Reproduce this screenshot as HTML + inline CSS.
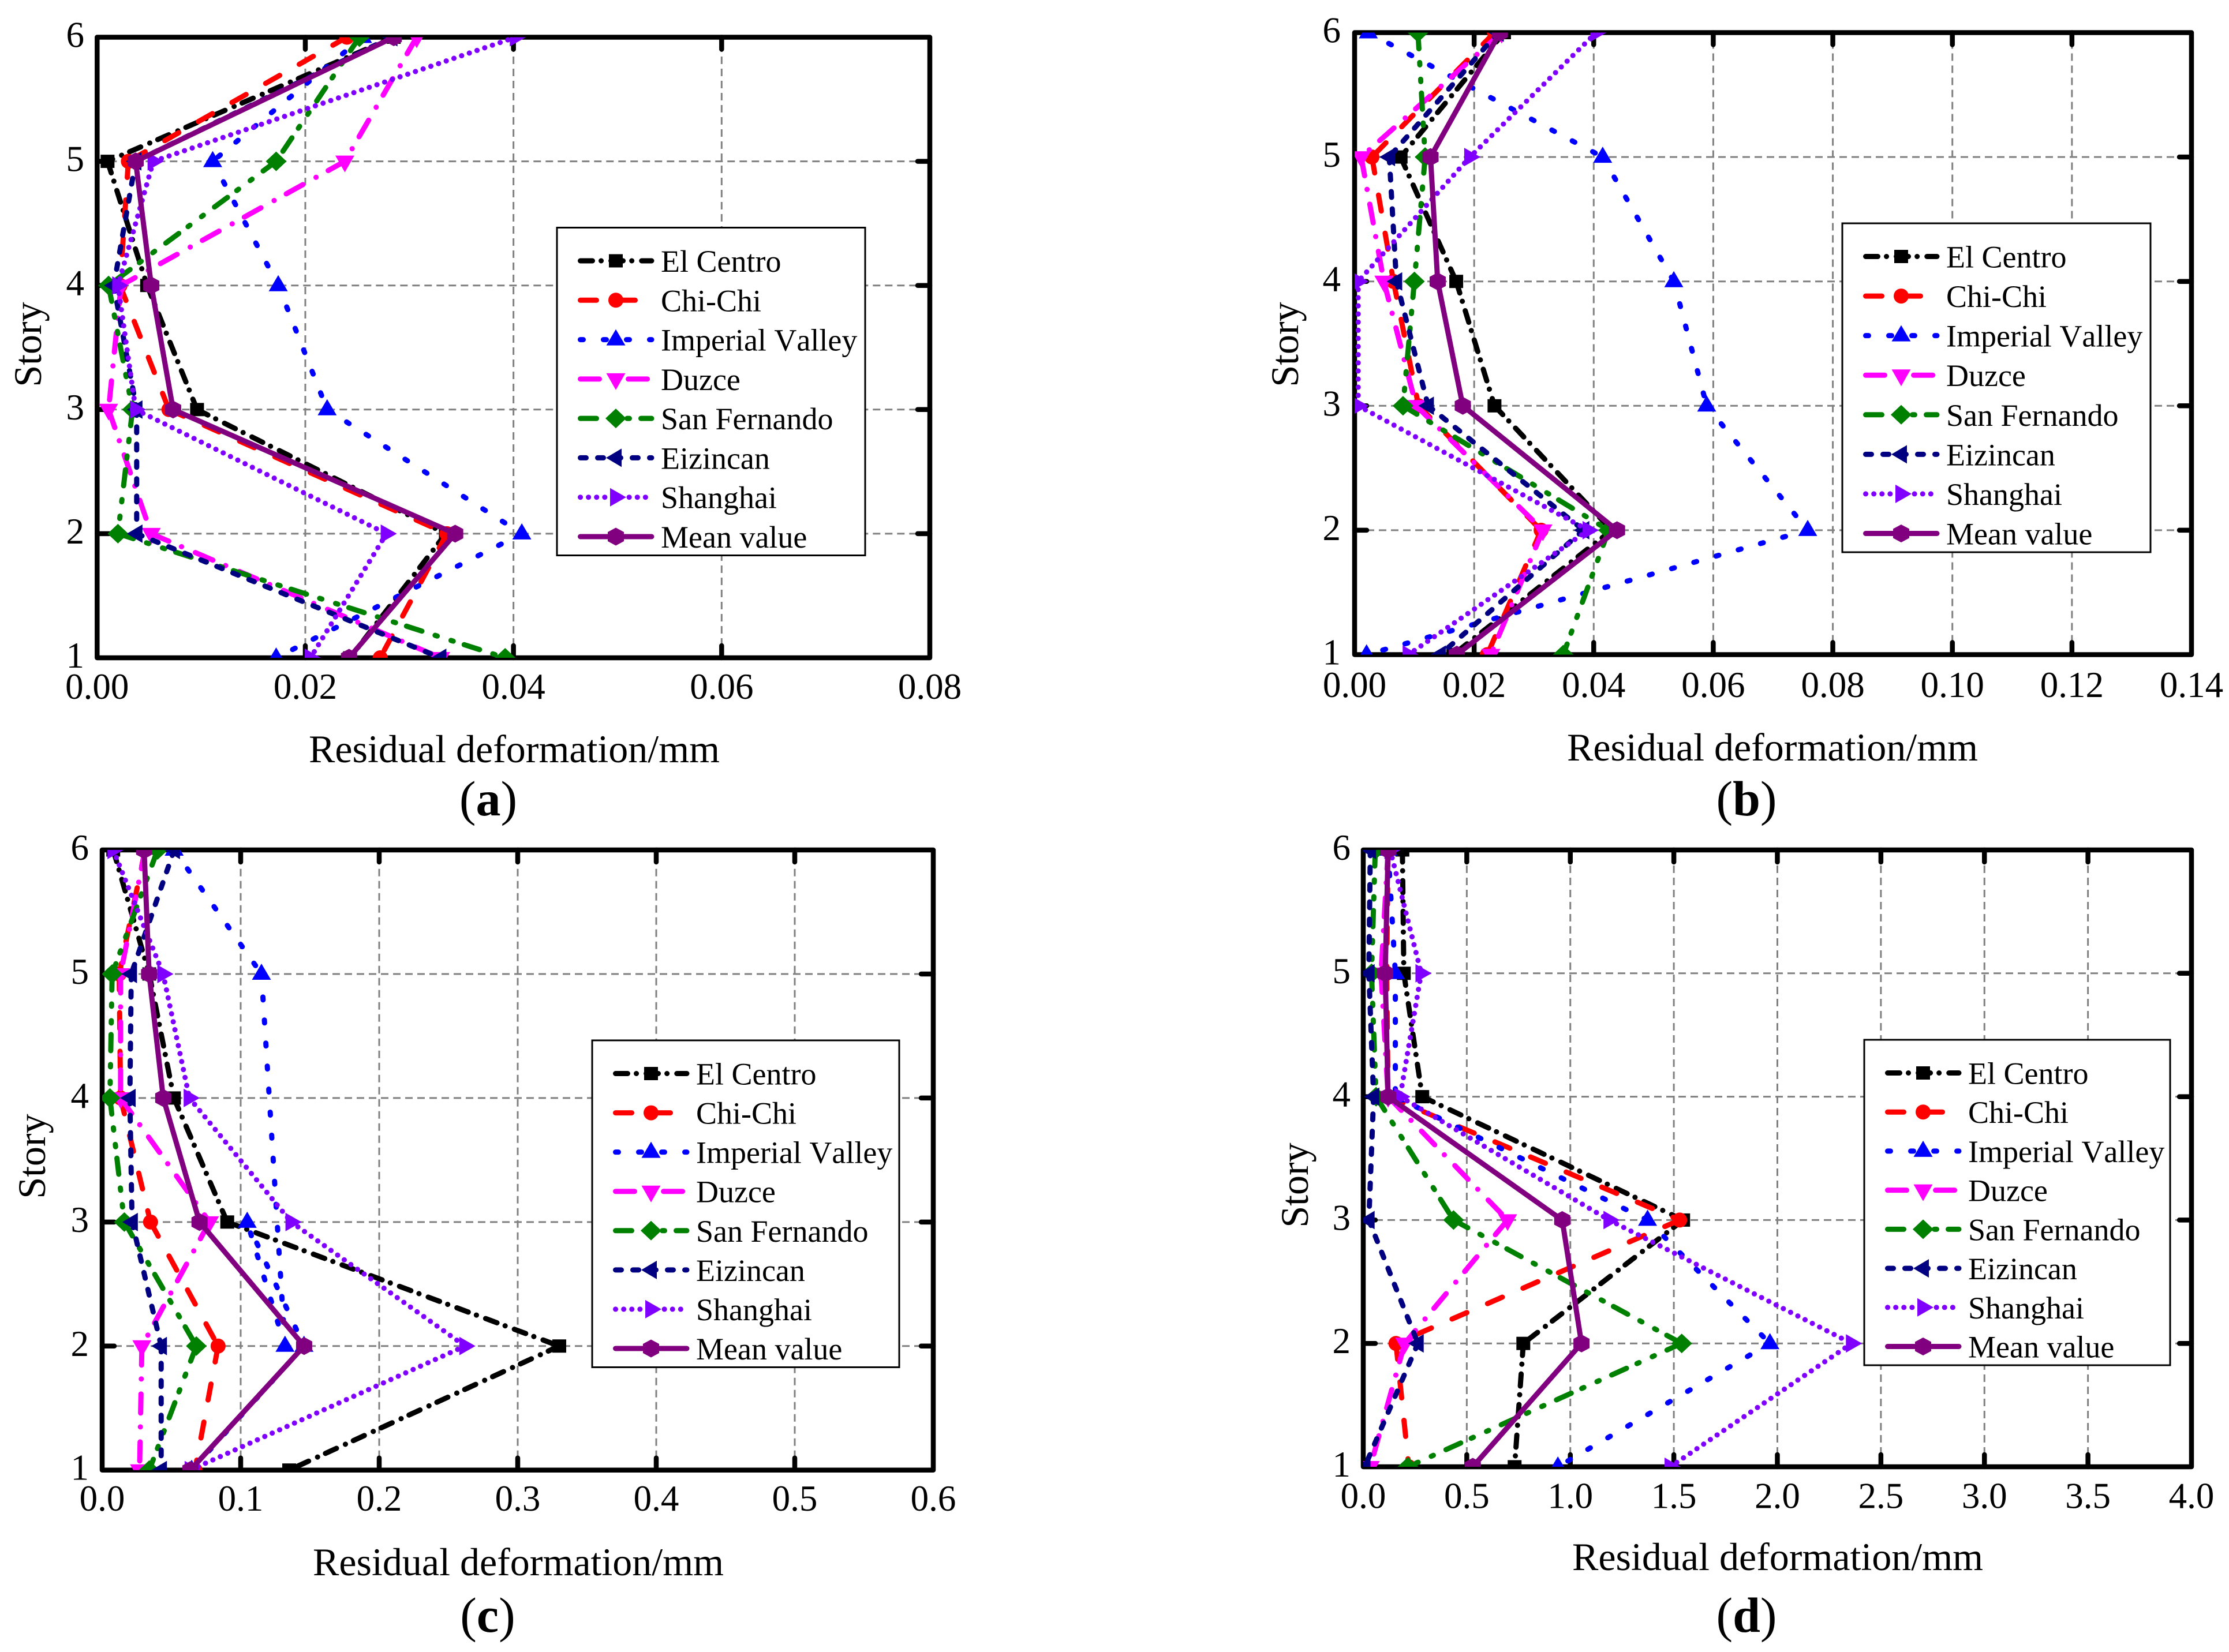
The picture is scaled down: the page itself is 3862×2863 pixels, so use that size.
<!DOCTYPE html>
<html lang="en">
<head>
<meta charset="utf-8">
<title>Residual deformation by story</title>
<style>
html,body{margin:0;padding:0;background:#fff;width:3862px;height:2863px;overflow:hidden}
svg{display:block}
text{font-family:"Liberation Serif","Times New Roman",serif;fill:#000;font-kerning:none}
.axis-title{font-size:68px}
.caption{font-size:86px}
.caption .b{font-weight:bold}
</style>
</head>
<body>
<svg id="fig" xmlns="http://www.w3.org/2000/svg" width="3862" height="2863" viewBox="0 0 3862 2863">
  <rect x="0" y="0" width="3862" height="2863" fill="#fff"/>

  <g id="panel-a"></g>
  <text class="axis-title" x="891" y="1321" text-anchor="middle">Residual deformation/mm</text>
  <text class="axis-title" transform="translate(71 597) rotate(-90)" text-anchor="middle">Story</text>
  <text class="caption" x="846" y="1413" text-anchor="middle">(<tspan class="b">a</tspan>)</text>

  <g id="panel-b"></g>
  <text class="axis-title" x="3071" y="1318" text-anchor="middle">Residual deformation/mm</text>
  <text class="axis-title" transform="translate(2249 597) rotate(-90)" text-anchor="middle">Story</text>
  <text class="caption" x="3026" y="1413" text-anchor="middle">(<tspan class="b">b</tspan>)</text>

  <g id="panel-c"></g>
  <text class="axis-title" x="898" y="2730" text-anchor="middle">Residual deformation/mm</text>
  <text class="axis-title" transform="translate(78 2004) rotate(-90)" text-anchor="middle">Story</text>
  <text class="caption" x="845" y="2828" text-anchor="middle">(<tspan class="b">c</tspan>)</text>

  <g id="panel-d"></g>
  <text class="axis-title" x="3080" y="2721" text-anchor="middle">Residual deformation/mm</text>
  <text class="axis-title" transform="translate(2266 2054) rotate(-90)" text-anchor="middle">Story</text>
  <text class="caption" x="3026" y="2828" text-anchor="middle">(<tspan class="b">d</tspan>)</text>
</svg>

<script>
// Shared categories
const stories = [1, 2, 3, 4, 5, 6];
const seriesNames = ['El Centro', 'Chi-Chi', 'Imperial Valley', 'Duzce', 'San Fernando', 'Eizincan', 'Shanghai', 'Mean value'];

// Panel (a) values, story 1 to 6
const aTicks = ['0.00', '0.02', '0.04', '0.06', '0.08'];
const aElCentro = [0.0243, 0.0335, 0.0096, 0.0048, 0.0010, 0.0285];
const aChiChi = [0.0272, 0.0336, 0.0069, 0.0022, 0.0030, 0.0240];
const aImperial = [0.0172, 0.0408, 0.0221, 0.0174, 0.0111, 0.0255];
const aDuzce = [0.0330, 0.0052, 0.0011, 0.0023, 0.0238, 0.0307];
const aSanFernando = [0.0392, 0.0020, 0.0034, 0.0011, 0.0172, 0.0252];
const aEizincan = [0.0330, 0.0038, 0.0038, 0.0016, 0.0037, 0.0283];
const aShanghai = [0.0205, 0.0278, 0.0037, 0.0020, 0.0054, 0.0402];
const aMean = [0.0242, 0.0344, 0.0073, 0.0052, 0.0037, 0.0285];

// Panel (b) values
const bTicks = ['0.00', '0.02', '0.04', '0.06', '0.08', '0.10', '0.12', '0.14'];
const bElCentro = [0.0165, 0.0430, 0.0234, 0.0170, 0.0077, 0.0250];
const bChiChi = [0.0222, 0.0312, 0.0107, 0.0065, 0.0029, 0.0234];
const bImperial = [0.0020, 0.0758, 0.0589, 0.0534, 0.0415, 0.0023];
const bDuzce = [0.0228, 0.0315, 0.0103, 0.0049, 0.0011, 0.0246];
const bSanFernando = [0.0349, 0.0425, 0.0081, 0.0100, 0.0118, 0.0106];
const bEizincan = [0.0143, 0.0383, 0.0123, 0.0070, 0.0058, 0.0240];
const bShanghai = [0.0090, 0.0391, 0.0006, 0.0006, 0.0193, 0.0404];
const bMean = [0.0171, 0.0439, 0.0181, 0.0139, 0.0127, 0.0243];

// Panel (c) values. Imperial Valley doubles back in the source: it visits
// story 2 twice and has no point at story 4.
const cTicks = ['0.0', '0.1', '0.2', '0.3', '0.4', '0.5', '0.6'];
const cElCentro = [0.135, 0.330, 0.0903, 0.0518, 0.034, 0.008];
const cChiChi = [0.067, 0.0837, 0.0349, 0.0133, 0.0123, 0.031];
const cImperial = [0.0646, 0.1457, 0.1047, 0.132, 0.115, 0.052];
const cImperialStories = [1, 2, 3, 2, 5, 6];
const cDuzce = [0.027, 0.0287, 0.0775, 0.0133, 0.0133, 0.031];
const cSanFernando = [0.034, 0.068, 0.016, 0.0056, 0.0072, 0.040];
const cEizincan = [0.0426, 0.0426, 0.0216, 0.020, 0.021, 0.052];
const cShanghai = [0.0637, 0.262, 0.1365, 0.063, 0.044, 0.008];
const cMean = [0.0637, 0.1458, 0.0703, 0.0441, 0.0339, 0.0303];

// Panel (d) values
const dTicks = ['0.0', '0.5', '1.0', '1.5', '2.0', '2.5', '3.0', '3.5', '4.0'];
const dElCentro = [0.731, 0.773, 1.545, 0.285, 0.196, 0.189];
const dChiChi = [0.22, 0.158, 1.528, 0.12, 0.113, 0.12];
const dImperial = [0.94, 1.964, 1.373, 0.155, 0.155, 0.12];
const dDuzce = [0.034, 0.20, 0.697, 0.12, 0.086, 0.12];
const dSanFernando = [0.216, 1.538, 0.436, 0.062, 0.04, 0.058];
const dEizincan = [0.007, 0.264, 0.027, 0.05, 0.027, 0.034];
const dShanghai = [1.483, 2.359, 1.188, 0.178, 0.28, 0.13];
const dMean = [0.529, 1.054, 0.961, 0.12, 0.106, 0.12];

const SVGNS = 'http://www.w3.org/2000/svg';
function add(tag, attrs, parent) {
  const n = document.createElementNS(SVGNS, tag);
  for (const k in attrs) n.setAttribute(k, attrs[k]);
  parent.appendChild(n);
  return n;
}

// Style of each series, in draw order
const styles = [
  {color: '#000000', dash: '21 15 0.1 17', marker: 'square'},
  {color: '#ff0000', dash: '28 39', marker: 'circle'},
  {color: '#0000ff', dash: '5 35', marker: 'up'},
  {color: '#ff00ff', dash: '33 24 0.1 26', marker: 'down'},
  {color: '#008000', dash: '28 24 4 25 4 20', marker: 'diamond'},
  {color: '#000080', dash: '10 20', marker: 'left'},
  {color: '#8000ff', dash: '0.1 14', marker: 'right'},
  {color: '#800080', dash: '', marker: 'hex'}
];

function drawMarker(kind, x, y, color, parent) {
  let m;
  const pts = function (list) {
    return list.map(function (p) { return (x + p[0]) + ',' + (y + p[1]); }).join(' ');
  };
  if (kind === 'square') {
    m = add('rect', {x: x - 12, y: y - 11.5, width: 24, height: 23, fill: color}, parent);
  } else if (kind === 'circle') {
    m = add('circle', {cx: x, cy: y, r: 13, fill: color}, parent);
  } else if (kind === 'up') {
    m = add('polygon', {points: pts([[0, -18], [16.5, 10], [-16.5, 10]]), fill: color}, parent);
  } else if (kind === 'down') {
    m = add('polygon', {points: pts([[0, 19], [16.5, -10], [-16.5, -10]]), fill: color}, parent);
  } else if (kind === 'diamond') {
    m = add('polygon', {points: pts([[0, -17], [18, 0], [0, 17], [-18, 0]]), fill: color}, parent);
  } else if (kind === 'left') {
    m = add('polygon', {points: pts([[-17, 0], [10, -16], [10, 16]]), fill: color}, parent);
  } else if (kind === 'right') {
    m = add('polygon', {points: pts([[18, 0], [-10, -16], [-10, 16]]), fill: color}, parent);
  } else {
    m = add('polygon', {points: pts([[0, -15.5], [14, -8], [14, 8], [0, 15.5], [-14, 8], [-14, -8]]), fill: color}, parent);
  }
  return m;
}

function drawPanel(cfg) {
  const root = document.getElementById('panel-' + cfg.id);
  const xMax = parseFloat(cfg.ticks[cfg.ticks.length - 1]);
  const xScale = function (v) { return cfg.x0 + (v / xMax) * (cfg.x1 - cfg.x0); };
  const yScale = function (s) {
    return cfg.yBottom - ((s - stories[0]) / (stories[stories.length - 1] - stories[0])) * (cfg.yBottom - cfg.yTop);
  };

  const defs = add('defs', {}, root);
  const clip = add('clipPath', {id: 'clip-' + cfg.id}, defs);
  add('rect', {x: cfg.x0, y: cfg.yTop, width: cfg.x1 - cfg.x0, height: cfg.yBottom - cfg.yTop}, clip);

  // Grid
  const grid = add('g', {stroke: '#808080', 'stroke-width': 3, 'stroke-dasharray': '13 8', fill: 'none'}, root);
  
  
  cfg.ticks.forEach(function (t, i) {
    if (i === 0 || i === cfg.ticks.length - 1) return;
    const gx = xScale(parseFloat(t));
    const line = add('line', {x1: gx, y1: cfg.yBottom, x2: gx, y2: cfg.yTop}, grid);
    
    
  });
  stories.forEach(function (s, i) {
    if (i === 0 || i === stories.length - 1) return;
    const gy = yScale(s);
    const line = add('line', {x1: cfg.x0, y1: gy, x2: cfg.x1, y2: gy}, grid);
    
    
  });

  // Frame and ticks
  const frame = add('g', {stroke: '#000', 'stroke-width': 8.5, fill: 'none', 'stroke-linejoin': 'round', 'stroke-linecap': 'round'}, root);
  
  
  const box = add('rect', {x: cfg.x0, y: cfg.yTop, width: cfg.x1 - cfg.x0, height: cfg.yBottom - cfg.yTop}, frame);
  
  
  cfg.ticks.forEach(function (t, i) {
    const tx = xScale(parseFloat(t));
    if (i > 0 && i < cfg.ticks.length - 1) {
      const bt = add('line', {x1: tx, y1: cfg.yBottom, x2: tx, y2: cfg.yBottom - 21}, frame);
      
      
      const tt = add('line', {x1: tx, y1: cfg.yTop, x2: tx, y2: cfg.yTop + 21}, frame);
      
      
    }
    const lab = add('text', {x: tx, y: cfg.xLabelY, 'text-anchor': 'middle', 'font-size': 63}, root);
    
    
    lab.textContent = t;
  });
  stories.forEach(function (s, i) {
    const ty = yScale(s);
    if (i > 0 && i < stories.length - 1) {
      const lt = add('line', {x1: cfg.x0, y1: ty, x2: cfg.x0 + 21, y2: ty}, frame);
      
      
      const rt = add('line', {x1: cfg.x1, y1: ty, x2: cfg.x1 - 21, y2: ty}, frame);
      
      
    }
    const lab = add('text', {x: cfg.yLabelX, y: ty + 17, 'text-anchor': 'end', 'font-size': 63}, root);
    
    
    lab.textContent = String(s);
  });

  // Series. The dash pattern restarts at each point, running from the upper story down.
  const dataLayer = add('g', {'clip-path': 'url(#clip-' + cfg.id + ')'}, root);
  
  
  cfg.series.forEach(function (vals, si) {
    const st = styles[si];
    const slug = seriesNames[si].toLowerCase().replace(/[^a-z]+/g, '-');
    const path = (cfg.paths && cfg.paths[si]) || stories;
    const g = add('g', {}, dataLayer);
    
    
    for (let i = vals.length - 1; i > 0; i--) {
      const attrs = {
        x1: xScale(vals[i]), y1: yScale(path[i]),
        x2: xScale(vals[i - 1]), y2: yScale(path[i - 1]),
        stroke: st.color, 'stroke-width': 9, 'stroke-linecap': 'round'
      };
      if (st.dash) attrs['stroke-dasharray'] = st.dash;
      const seg = add('line', attrs, g);
      
      
    }
    vals.forEach(function (v, i) {
      const mk = drawMarker(st.marker, xScale(v), yScale(path[i]), st.color, g);
      
      
    });
  });

  // Legend
  const lg = add('g', {transform: 'translate(' + cfg.legendX + ' ' + cfg.legendY + ')'}, root);
  
  
  const lbox = add('rect', {x: 0, y: 0, width: cfg.legendW, height: cfg.legendH, fill: '#fff', stroke: '#000', 'stroke-width': 3}, lg);
  
  
  seriesNames.forEach(function (name, i) {
    const st = styles[i];
    const ry = 57.5 + i * ((cfg.legendH - 90) / 7);
    const row = add('g', {}, lg);
    
    
    const attrs = {x1: 40.5, y1: ry, x2: 164, y2: ry, stroke: st.color, 'stroke-width': 9, 'stroke-linecap': 'round'};
    if (st.dash) attrs['stroke-dasharray'] = st.dash;
    const ln = add('line', attrs, row);
    
    
    const mk = drawMarker(st.marker, 102, ry, st.color, row);
    
    
    const tx = add('text', {x: 180, y: ry + 19, 'font-size': 54}, row);
    
    
    tx.textContent = name;
  });
}

drawPanel({id: 'a', ticks: aTicks, x0: 168.3, x1: 1611, yTop: 64.5, yBottom: 1140, xLabelY: 1211, yLabelX: 146,
  legendX: 965, legendY: 394.5, legendW: 534, legendH: 568,
  series: [aElCentro, aChiChi, aImperial, aDuzce, aSanFernando, aEizincan, aShanghai, aMean]});
drawPanel({id: 'b', ticks: bTicks, x0: 2347, x1: 3797, yTop: 56.5, yBottom: 1134.5, xLabelY: 1208, yLabelX: 2323,
  legendX: 3192, legendY: 387, legendW: 534, legendH: 570,
  series: [bElCentro, bChiChi, bImperial, bDuzce, bSanFernando, bEizincan, bShanghai, bMean]});
drawPanel({id: 'c', ticks: cTicks, x0: 177, x1: 1617, yTop: 1473, yBottom: 2547.7, xLabelY: 2618, yLabelX: 154,
  legendX: 1026, legendY: 1803, legendW: 532, legendH: 566.5,
  paths: {2: cImperialStories},
  series: [cElCentro, cChiChi, cImperial, cDuzce, cSanFernando, cEizincan, cShanghai, cMean]});
drawPanel({id: 'd', ticks: dTicks, x0: 2362, x1: 3797, yTop: 1473, yBottom: 2542, xLabelY: 2613.5, yLabelX: 2340,
  legendX: 3230, legendY: 1802, legendW: 530, legendH: 564,
  series: [dElCentro, dChiChi, dImperial, dDuzce, dSanFernando, dEizincan, dShanghai, dMean]});
</script>
</body>
</html>
